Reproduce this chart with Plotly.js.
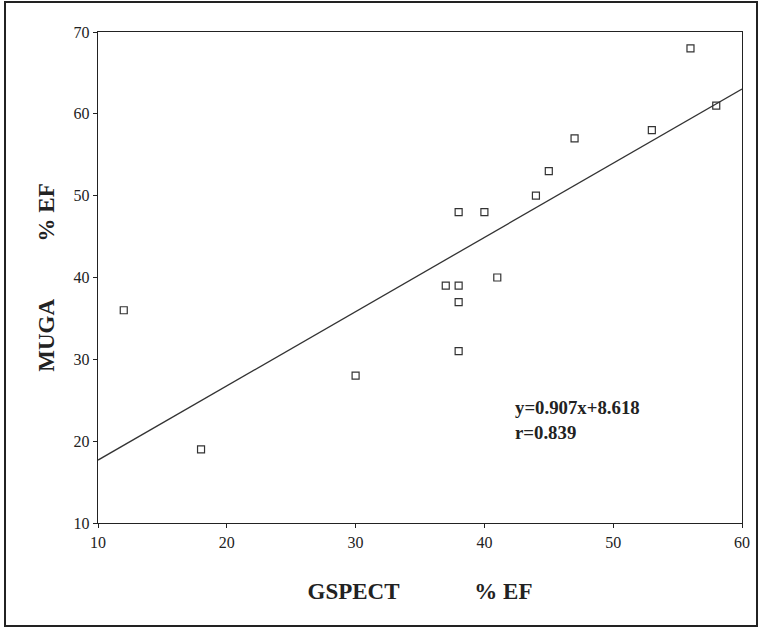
<!DOCTYPE html>
<html><head><meta charset="utf-8">
<script src="https://cdn.plot.ly/plotly-3.0.1.min.js"></script>
<style>html,body{margin:0;padding:0;background:#fff}#chart{width:763px;height:631px}</style>
</head><body><div id="chart"></div>
<script>
const gspectEF = [12, 18, 30, 37, 38, 38, 38, 38, 40, 41, 44, 45, 47, 53, 56, 58];
const mugaEF   = [36, 19, 28, 39, 48, 39, 37, 31, 48, 40, 50, 53, 57, 58, 68, 61];
const slope = 0.907, intercept = 8.618, rValue = 0.839;
const lineX = [10, 60];
const lineY = lineX.map(v => slope * v + intercept);
const xTicks = [10, 20, 30, 40, 50, 60];
const yTicks = [10, 20, 30, 40, 50, 60, 70];
const serif = 'Liberation Serif, Times New Roman, serif';
const nb = n => '\u00A0'.repeat(n);

const traces = [
  {x: lineX, y: lineY, mode: 'lines', line: {color: '#333', width: 1.3}, hoverinfo: 'skip'},
  {x: gspectEF, y: mugaEF, mode: 'markers',
   marker: {symbol: 'square-open', size: 7, color: '#333', line: {width: 1.2, color: '#333'}}}
];
const axisCommon = {
  showgrid: false, zeroline: false, showline: true, linecolor: '#222', linewidth: 1.3,
  mirror: true, ticks: 'outside', ticklen: 4, tickwidth: 1, tickcolor: '#222',
  tickfont: {family: serif, size: 16, color: '#222'}
};
const layout = {
  width: 763, height: 631, showlegend: false,
  paper_bgcolor: '#fff', plot_bgcolor: '#fff',
  margin: {l: 98, r: 21, t: 32, b: 108},
  xaxis: Object.assign({}, axisCommon, {range: [10, 60], tickvals: xTicks,
    title: {text: '<b>GSPECT' + nb(13) + '% EF</b>', font: {family: serif, size: 23, color: '#222'}, standoff: 33}}),
  yaxis: Object.assign({}, axisCommon, {range: [10, 70], tickvals: yTicks,
    title: {text: '<b>MUGA' + nb(10) + '% EF</b>', font: {family: serif, size: 23, color: '#222'}, standoff: 12}}),
  annotations: [
    {x: 42.2, y: 24.15, xref: 'x', yref: 'y', xanchor: 'left', yanchor: 'middle', showarrow: false,
     text: '<b>y=' + slope + 'x+' + intercept + '</b>', font: {family: serif, size: 18.8, color: '#222'}},
    {x: 42.2, y: 21.0, xref: 'x', yref: 'y', xanchor: 'left', yanchor: 'middle', showarrow: false,
     text: '<b>r=' + rValue + '</b>', font: {family: serif, size: 18.8, color: '#222'}}
  ],
  shapes: [{type: 'rect', xref: 'paper', yref: 'paper', x0: -0.1444, x1: 1.0233, y0: -0.2098, y1: 1.061,
    line: {color: '#222', width: 2}}]
};
Plotly.newPlot('chart', traces, layout, {displayModeBar: false, staticPlot: true});
</script></body></html>
